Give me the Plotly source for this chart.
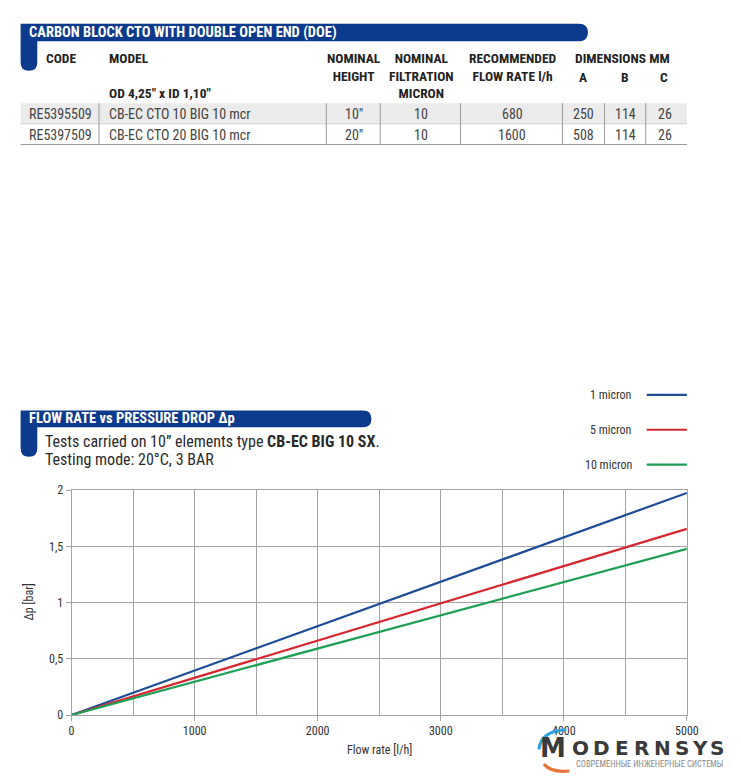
import plotly.graph_objects as go

W, H = 741, 777

# ---------------- data ----------------
flow = [0, 5000]
series_names = ["1 micron", "5 micron", "10 micron"]
dp_1 = [0, 1.975]
dp_5 = [0, 1.655]
dp_10 = [0, 1.478]
series_colors = ["#1f4c97", "#d6262f", "#1f9f55"]

x_ticks = [0, 1000, 2000, 3000, 4000, 5000]

table_header_cols = ["CODE", "MODEL", "NOMINAL<br>HEIGHT", "NOMINAL<br>FILTRATION<br>MICRON",
                     "RECOMMENDED<br>FLOW RATE l/h", "A", "B", "C"]
table_codes = ["RE5395509", "RE5397509"]
table_models = ["CB-EC CTO 10 BIG 10 mcr", "CB-EC CTO 20 BIG 10 mcr"]
table_height = ['10"', '20"']
table_micron = ["10", "10"]
table_flow = ["680", "1600"]
table_dim_a = ["250", "508"]
table_dim_b = ["114", "114"]
table_dim_c = ["26", "26"]

# ---------------- helpers ----------------
def px(x):
    return x / W

def py(y):
    return 1 - y / H

def _fmt(cmds):
    out = []
    for c in cmds:
        op = c[0]
        pts = c[1:]
        s = op + " ".join(f"{px(pts[i]):.5f},{py(pts[i+1]):.5f}" for i in range(0, len(pts), 2))
        out.append(s)
    return " ".join(out)

def path(cmds):
    return _fmt(cmds) + " Z"

def open_path(cmds):
    return _fmt(cmds)

NARROW = "Liberation Sans Narrow, Roboto Condensed, Arial Narrow, sans-serif"
BLUE = "#0c3a8c"

fig = go.Figure()
for name, vals, col in zip(series_names, [dp_1, dp_5, dp_10], series_colors):
    fig.add_trace(go.Scatter(x=flow, y=vals, mode="lines", name=name,
                             line=dict(color=col, width=2.2), showlegend=False))

shapes = []
ann = []

def band(x0, x1, y0, y1, tail_x1, tail_y1):
    r = (y1 - y0) / 2
    rt = (tail_x1 - x0) / 2
    d = path([
        ("M", x0, y0), ("L", x1 - r, y0), ("Q", x1, y0, x1, y0 + r), ("Q", x1, y1, x1 - r, y1),
        ("L", tail_x1, y1), ("L", tail_x1, tail_y1 - rt), ("Q", tail_x1, tail_y1, x0 + rt, tail_y1),
        ("Q", x0, tail_y1, x0, tail_y1 - rt),
    ])
    shapes.append(dict(type="path", xref="paper", yref="paper", path=d,
                       fillcolor=BLUE, line=dict(width=0), layer="below"))

def text(x, y, s, size=13, color="#333333", bold=False, xanchor="center", font=NARROW):
    if bold:
        s = f"<b>{s}</b>"
    ann.append(dict(x=px(x), y=py(y), xref="paper", yref="paper", text=s, showarrow=False,
                    xanchor=xanchor, yanchor="middle", font=dict(family=font, size=size, color=color)))

# ---------- table header band ----------
band(18, 597, 17, 35, 35, 65)
text(24, 26, "CARBON BLOCK CTO WITH DOUBLE OPEN END (DOE)", size=14.5, color="white", bold=True, xanchor="left")

HC = "#222222"
text(59, 52, "CODE", size=13.5, color=HC, bold=True)
text(106, 52, "MODEL", size=13.5, color=HC, bold=True, xanchor="left")
text(106, 88, 'OD 4,25" x ID 1,10"', size=13.5, color=HC, bold=True, xanchor="left")
for xx, yy, s in [(358, 61.5, table_header_cols[2]), (427, 70, table_header_cols[3]),
                  (520, 61.5, table_header_cols[4])]:
    ann.append(dict(x=px(xx), y=py(yy), xref="paper", yref="paper", text=f"<b>{s}</b>", showarrow=False,
                    xanchor="center", yanchor="middle", align="center",
                    font=dict(family=NARROW, size=13.5, color=HC)))
text(632, 52, "DIMENSIONS MM", size=13.5, color=HC, bold=True)
for xx, s in zip([592, 635, 675], table_header_cols[5:]):
    text(xx, 71, s, size=13.5, color=HC, bold=True)

shapes.append(dict(type="rect", xref="paper", yref="paper", x0=px(18), x1=px(698), y0=py(98), y1=py(119),
                   fillcolor="#ebebeb", line=dict(width=0), layer="below"))
shapes.append(dict(type="line", xref="paper", yref="paper", x0=px(18), x1=px(698), y0=py(119), y1=py(119),
                   line=dict(color="#d0d0d0", width=1)))
shapes.append(dict(type="line", xref="paper", yref="paper", x0=px(18), x1=px(698), y0=py(140), y1=py(140),
                   line=dict(color="#9a9a9a", width=1.2)))
for xv in [98, 330, 385, 467, 571, 614, 656]:
    shapes.append(dict(type="line", xref="paper", yref="paper", x0=px(xv), x1=px(xv), y0=py(98), y1=py(140),
                       line=dict(color="#9a9a9a", width=1)))

RC = "#444444"
for i, yy in enumerate([109, 130]):
    text(59, yy, table_codes[i], size=14, color=RC)
    text(106, yy, table_models[i], size=14, color=RC, xanchor="left")
    text(358, yy, table_height[i], size=14, color=RC)
    text(427, yy, table_micron[i], size=14, color=RC)
    text(520, yy, table_flow[i], size=14, color=RC)
    text(593, yy, table_dim_a[i], size=14, color=RC)
    text(635, yy, table_dim_b[i], size=14, color=RC)
    text(676, yy, table_dim_c[i], size=14, color=RC)

# ---------- chart header ----------
band(18, 376, 411, 428, 35, 458)
text(24, 419.5, "FLOW RATE vs PRESSURE DROP Δp", size=14.5, color="white", bold=True, xanchor="left")
text(41, 442, "Tests carried on 10” elements type <b>CB-EC BIG 10 SX</b>.", size=16, color="#2a2a2a", xanchor="left")
text(41, 461, "Testing mode: 20°C, 3 BAR", size=16, color="#2a2a2a", xanchor="left")

# ---------- custom legend ----------
for i, (name, col) in enumerate(zip(series_names, series_colors)):
    yy = 395 + i * 35.5
    text(644, yy, name, size=12, color="#333333", xanchor="right")
    shapes.append(dict(type="line", xref="paper", yref="paper", x0=px(657), x1=px(698), y0=py(yy), y1=py(yy),
                       line=dict(color=col, width=2.2)))

# ---------- axis titles ----------
text(384, 757, "Flow rate [l/h]", size=12, color="#333333")
ann.append(dict(x=px(27), y=py(606), xref="paper", yref="paper", text="Δp [bar]", showarrow=False,
                textangle=-90, xanchor="center", yanchor="middle",
                font=dict(family=NARROW, size=12, color="#333333")))

# ---------- logo watermark ----------
logo_letters = ["M", "O", "D", "E", "R", "N", "S", "Y", "S"]
logo_x = [561, 589, 611, 632, 652, 673, 693, 711, 729]
for ch, xx in zip(logo_letters, logo_x):
    text(xx, 755, ch, size=26 if ch == "M" else 20, color="#3a3a3a", bold=True, font="DejaVu Sans, sans-serif")
text(660, 771, "СОВРЕМЕННЫЕ ИНЖЕНЕРНЫЕ СИСТЕМЫ", size=8.5, color="#8a8a8a", font=NARROW)
shapes.append(dict(type="path", xref="paper", yref="paper",
                   path=open_path([("M", 547, 756), ("Q", 549, 737, 575, 736)]),
                   line=dict(color="#2ea3dd", width=3.2), layer="above"))
shapes.append(dict(type="path", xref="paper", yref="paper",
                   path=open_path([("M", 552, 771), ("Q", 560, 780, 578, 778)]),
                   line=dict(color="#e8743b", width=3.2), layer="above"))

GRID = "#a3a3a3"
fig.update_layout(
    width=W, height=H,
    margin=dict(l=0, r=0, t=0, b=0),
    paper_bgcolor="white", plot_bgcolor="white",
    separators=",.",
    showlegend=False,
    shapes=shapes, annotations=ann,
    xaxis=dict(domain=[px(70), px(698)], range=[0, 5000], tickvals=x_ticks,
               showgrid=True, gridcolor=GRID, gridwidth=1,
               minor=dict(dtick=500, showgrid=True, gridcolor=GRID, gridwidth=1),
               ticks="outside", ticklen=5, tickcolor=GRID,
               showline=True, linecolor=GRID, mirror=True, zeroline=False,
               tickfont=dict(family=NARROW, size=12, color="#333333"), fixedrange=True),
    yaxis=dict(domain=[py(721), py(492)], range=[0, 2], dtick=0.5,
               showgrid=True, gridcolor=GRID, gridwidth=1,
               ticks="outside", ticklen=5, tickcolor=GRID,
               showline=True, linecolor=GRID, mirror=True, zeroline=False,
               tickfont=dict(family=NARROW, size=12, color="#333333"), fixedrange=True),
)

fig.write_html("out.html", config={"displayModeBar": False},
               post_script="document.body.style.margin='0px';document.body.style.padding='0px';"
                           "document.documentElement.style.overflow='hidden';")
